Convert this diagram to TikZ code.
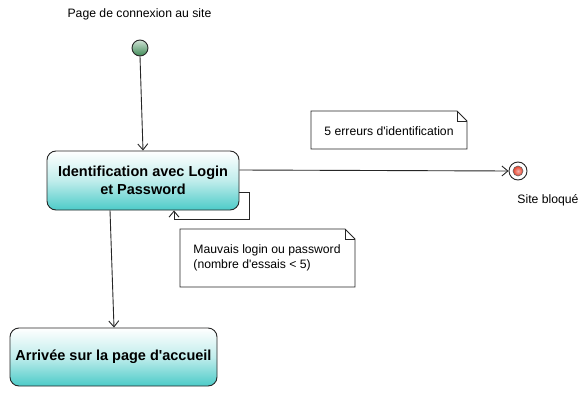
\documentclass[tikz,border=0pt]{standalone}
\usepackage{fontspec}
\setmainfont{Liberation Sans}
\usetikzlibrary{arrows.meta,shapes.geometric}
\definecolor{teal1}{HTML}{4CCBC8}
\definecolor{grn}{HTML}{3E8A55}
\definecolor{redc}{HTML}{E8402A}
\newcommand{\apo}{\textquotesingle}
\tikzset{
  every path/.style={line width=0.9pt},
  statebox/.style={draw=black!85, line width=0.9pt, rounded corners=9pt, top color=white, bottom color=teal1, middle color=teal1!35, align=center, font=\bfseries\fontsize{14.5}{17.5}\selectfont, inner sep=0pt},
  arr/.style={-{Straight Barb[length=6pt,width=10pt]}, draw=black!85, line width=0.9pt},
  lbl/.style={font=\fontsize{12.2}{15}\selectfont, inner sep=0pt},
  notebox/.style={fill=white, draw=black!85, line width=0.9pt},
}
\begin{document}
\begin{tikzpicture}[x=1pt,y=-1pt]
\useasboundingbox[fill=white] (0,0) rectangle (588,401);
% title
\node[lbl] (t1) at (139.5,14) {Page de connexion au site};
% initial
\node[circle, draw=black!85, line width=0.9pt, minimum size=16pt, inner sep=0pt, top color=grn!25!white, bottom color=grn] (init) at (140,48) {};
% box 1
\node[statebox, minimum width=192pt, minimum height=59pt] (b1) at (143,180.5) {Identification avec Login\\et Password};
% box 2
\node[statebox, minimum width=207pt, minimum height=58pt] (b2) at (113.5,357) {Arrivée sur la page d\apo accueil};
% final
\node[circle, draw=black!85, line width=0.9pt, fill=white, minimum size=18pt, inner sep=0pt] (fin) at (518,171) {};
\node[circle, draw=black!60, line width=0.6pt, inner color=redc!40, outer color=redc, minimum size=10pt, inner sep=0pt] (finin) at (518,171) {};
\node[lbl] (t2) at (548,200) {Site bloqué};
% notes
\draw[notebox] (311,111) -- (457,111) -- (467,121) -- (467,149) -- (311,149) -- cycle;
\draw[draw=black!85] (457,111) -- (457,121) -- (467,121);
\node[lbl] (nt1) at (389,131) {5 erreurs d\apo identification};
\draw[notebox] (180,229) -- (345,229) -- (355,239) -- (355,287) -- (180,287) -- cycle;
\draw[draw=black!85] (345,229) -- (345,239) -- (355,239);
\node[lbl, align=left, anchor=west] (nt2) at (193,258) {Mauvais login ou password\\(nombre d\apo essais < 5)};
% connectors
\draw[arr] (init.south) -- (b1.north);
\draw[arr] (b1.east |- 0,170) -- (fin.west);
\coordinate (l1) at (249,192);
\coordinate (l2) at (249,219);
\coordinate (l3) at (174,219);
\draw[arr] (b1.east |- l1) -- (l1) -- (l2) -- (l3) -- (l3 |- b1.south);
\draw[arr] (b1.south -| 110,0) -- (b2.north -| 114,0);
\end{tikzpicture}
\end{document}
